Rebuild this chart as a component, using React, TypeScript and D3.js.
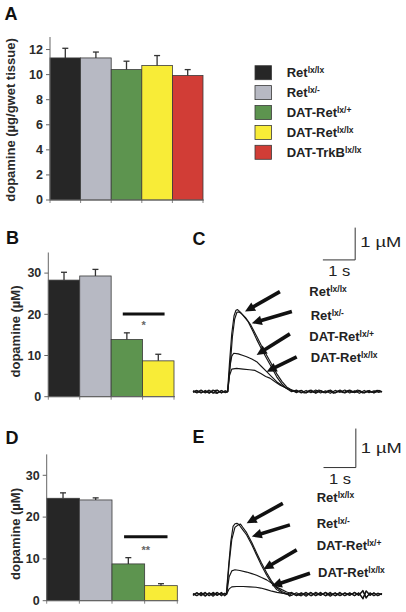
import React from 'react';
import * as d3 from 'd3';

const FONT = '"Liberation Sans", Arial, Helvetica, sans-serif';

// ---------- DATA ----------
const genoBase = ['Ret', 'Ret', 'DAT-Ret', 'DAT-Ret', 'DAT-TrkB'];
const genoSup = ['lx/lx', 'lx/-', 'lx/+', 'lx/lx', 'lx/lx'];
const genoColors = ['#262626', '#b7b9c3', '#5d944f', '#f8ec37', '#d13d36'];

const tissueMean = [11.33, 11.33, 10.4, 10.72, 9.93];
const tissueErr = [0.77, 0.47, 0.67, 0.8, 0.47];
const tissueTicks = [0, 2, 4, 6, 8, 10, 12];

const peakBMean = [28.3, 29.3, 13.9, 8.7];
const peakBErr = [1.9, 1.6, 1.6, 1.6];
const peakDMean = [24.5, 24.1, 8.8, 3.6];
const peakDErr = [1.3, 0.5, 1.5, 0.47];
const peakTicks = [0, 10, 20, 30];

type Pt = [number, number];

const traceC1: Pt[] = [[0,0.02],[0.12,-0.04],[0.25,0.03],[0.38,-0.02],[0.5,0.05],[0.62,-0.05],[0.75,0.04],[0.88,-0.03],[1.0,0.02],[1.07,0],[1.13,0.9],[1.2,1.8],[1.27,2.35],[1.33,2.52],[1.38,2.54],[1.45,2.48],[1.55,2.36],[1.7,2.18],[1.85,1.88],[1.97,1.62],[2.12,1.32],[2.28,1.03],[2.44,0.74],[2.59,0.46],[2.75,0.24],[2.9,0.1],[3.05,0.0],[3.2,0.05],[3.35,-0.04],[3.5,0.04],[3.65,-0.03],[3.8,0.05],[3.95,-0.04],[4.1,0.03],[4.25,-0.05],[4.4,0.04],[4.55,-0.02],[4.7,0.05],[4.85,-0.04],[5.0,0.03],[5.15,-0.05],[5.3,0.04],[5.45,-0.03],[5.6,0.03],[5.75,-0.02],[5.85,0.01]];
const traceC2: Pt[] = [[0,-0.02],[0.12,0.03],[0.25,-0.04],[0.38,0.04],[0.5,-0.03],[0.62,0.05],[0.75,-0.04],[0.88,0.04],[1.0,-0.02],[1.08,0],[1.15,0.8],[1.22,1.7],[1.29,2.25],[1.36,2.46],[1.42,2.47],[1.5,2.42],[1.62,2.3],[1.78,2.08],[1.97,1.72],[2.12,1.42],[2.28,1.13],[2.44,0.84],[2.59,0.56],[2.75,0.32],[2.9,0.15],[3.05,0.05],[3.2,-0.03],[3.35,0.04],[3.5,-0.04],[3.65,0.05],[3.8,-0.03],[3.95,0.04],[4.1,-0.04],[4.25,0.03],[4.4,-0.03],[4.55,0.05],[4.7,-0.04],[4.85,0.03],[5.0,-0.03],[5.15,0.04],[5.3,-0.03],[5.45,0.04],[5.6,-0.04],[5.75,0.03],[5.85,0.0]];
const traceC3: Pt[] = [[0,0.0],[0.12,0.04],[0.25,-0.03],[0.38,0.02],[0.5,-0.05],[0.62,0.03],[0.75,0.05],[0.88,-0.04],[1.0,0.03],[1.07,0],[1.14,0.75],[1.2,1.1],[1.26,1.19],[1.4,1.17],[1.55,1.12],[1.66,1.08],[1.82,1.01],[1.97,0.93],[2.12,0.78],[2.28,0.62],[2.44,0.46],[2.59,0.31],[2.75,0.19],[2.9,0.1],[3.05,0.04],[3.2,0.0],[3.35,0.04],[3.5,-0.03],[3.65,0.03],[3.8,-0.05],[3.95,0.03],[4.1,-0.02],[4.25,0.05],[4.4,-0.04],[4.55,0.03],[4.7,-0.03],[4.85,0.05],[5.0,-0.02],[5.15,0.03],[5.3,-0.04],[5.45,0.02],[5.6,-0.03],[5.75,0.04],[5.85,0.0]];
const traceC4: Pt[] = [[0,0.03],[0.12,-0.02],[0.25,0.05],[0.38,-0.04],[0.5,0.03],[0.62,-0.02],[0.75,-0.05],[0.88,0.03],[1.0,-0.03],[1.07,0],[1.13,0.5],[1.2,0.7],[1.35,0.72],[1.55,0.7],[1.75,0.68],[1.92,0.66],[2.1,0.56],[2.25,0.47],[2.38,0.42],[2.55,0.3],[2.7,0.2],[2.85,0.13],[3.0,0.07],[3.15,0.03],[3.3,0.0],[3.45,-0.04],[3.6,0.04],[3.75,-0.02],[3.9,0.05],[4.05,-0.03],[4.2,0.04],[4.35,-0.05],[4.5,0.02],[4.65,-0.03],[4.8,0.04],[4.95,-0.02],[5.1,0.05],[5.25,-0.04],[5.4,0.03],[5.55,-0.02],[5.7,0.04],[5.85,-0.01]];

const traceE1: Pt[] = [[0,0.01],[0.12,-0.04],[0.25,0.05],[0.38,-0.03],[0.5,0.03],[0.62,-0.05],[0.75,0.04],[0.88,-0.02],[0.98,0.02],[1.03,0],[1.1,0.7],[1.17,1.35],[1.24,1.74],[1.3,1.81],[1.36,1.82],[1.42,1.79],[1.52,1.68],[1.66,1.52],[1.82,1.27],[1.97,1.0],[2.12,0.74],[2.28,0.49],[2.44,0.28],[2.59,0.12],[2.75,0.04],[2.9,0.0],[3.05,0.05],[3.2,-0.04],[3.35,0.03],[3.5,-0.05],[3.65,0.04],[3.8,-0.03],[3.95,0.05],[4.1,-0.04],[4.25,0.02],[4.4,-0.03],[4.55,0.05],[4.7,-0.04],[4.85,0.03],[5.0,-0.03],[5.13,0.04],[5.26,-0.12],[5.36,0.08],[5.48,-0.03],[5.6,0.04],[5.72,-0.03],[5.85,0.02]];
const traceE2: Pt[] = [[0,-0.03],[0.12,0.04],[0.25,-0.02],[0.38,0.05],[0.5,-0.04],[0.62,0.03],[0.75,-0.03],[0.88,0.05],[0.98,-0.02],[1.04,0],[1.12,0.8],[1.2,1.4],[1.3,1.72],[1.4,1.78],[1.47,1.8],[1.54,1.72],[1.66,1.58],[1.82,1.33],[1.97,1.06],[2.12,0.8],[2.28,0.55],[2.44,0.33],[2.59,0.17],[2.75,0.07],[2.9,0.02],[3.0,-0.05],[3.05,0.04],[3.2,0.0],[3.35,-0.04],[3.5,0.04],[3.65,-0.03],[3.8,0.05],[3.95,-0.02],[4.1,0.04],[4.25,-0.05],[4.4,0.03],[4.55,-0.03],[4.7,0.04],[4.85,-0.02],[5.0,0.04],[5.13,-0.03],[5.26,0.1],[5.36,-0.08],[5.48,0.03],[5.6,-0.04],[5.72,0.03],[5.85,-0.01]];
const traceE3: Pt[] = [[0,0.02],[0.12,-0.03],[0.25,0.03],[0.38,-0.05],[0.5,0.04],[0.62,-0.02],[0.75,0.05],[0.88,-0.04],[0.98,0.03],[1.04,0],[1.12,0.45],[1.2,0.6],[1.3,0.63],[1.45,0.61],[1.66,0.57],[1.82,0.53],[1.97,0.49],[2.12,0.43],[2.28,0.37],[2.44,0.28],[2.59,0.19],[2.75,0.12],[2.9,0.06],[3.05,0.02],[3.2,-0.03],[3.35,0.04],[3.5,-0.02],[3.65,0.05],[3.8,-0.04],[3.95,0.03],[4.1,-0.03],[4.25,0.05],[4.4,-0.04],[4.55,0.02],[4.7,-0.03],[4.85,0.04],[5.0,-0.04],[5.13,0.03],[5.26,-0.1],[5.36,0.09],[5.48,-0.02],[5.6,0.03],[5.72,-0.04],[5.85,0.02]];
const traceE4: Pt[] = [[0,-0.01],[0.12,0.04],[0.25,-0.04],[0.38,0.03],[0.5,-0.03],[0.62,0.05],[0.75,-0.02],[0.88,0.03],[0.98,-0.04],[1.04,0],[1.12,0.14],[1.2,0.19],[1.35,0.2],[1.55,0.2],[1.75,0.19],[1.95,0.18],[2.1,0.16],[2.28,0.12],[2.44,0.08],[2.6,0.05],[2.75,0.03],[2.9,0.01],[3.05,-0.03],[3.2,0.04],[3.35,-0.02],[3.5,0.05],[3.65,-0.04],[3.8,0.02],[3.95,-0.03],[4.1,0.05],[4.25,-0.02],[4.4,0.04],[4.55,-0.04],[4.7,0.03],[4.85,-0.03],[5.0,0.05],[5.13,-0.02],[5.26,0.08],[5.36,-0.1],[5.48,0.04],[5.6,-0.03],[5.72,0.02],[5.85,0.0]];

// arrows: [tailT, tailV, tipT, tipV]
const arrowsC = [[2.69, 3.10, 1.61, 2.48], [3.06, 2.48, 1.82, 2.12], [3.0, 1.79, 1.97, 1.14], [3.21, 1.08, 2.28, 0.62]];
const arrowsE = [[2.78, 2.33, 1.66, 1.82], [3.0, 1.78, 1.82, 1.48], [3.21, 1.14, 2.18, 0.64], [3.62, 0.54, 2.44, 0.21]];
const traceLabelBase = ['Ret', 'Ret', 'DAT-Ret', 'DAT-Ret'];
const traceLabelSup = ['lx/lx', 'lx/-', 'lx/+', 'lx/lx'];

// ---------- COMPONENTS ----------
function SupText({ x, y, base, sup, size = 13, supSize = 8.5, rise = 4.2 }: any) {
  return (
    <text x={x} y={y} fontFamily={FONT} fontWeight="bold" fontSize={size} fill="#222">
      <tspan>{base}</tspan>
      <tspan fontSize={supSize} dy={-rise}>{sup}</tspan>
    </text>
  );
}

function BarPanel({ x0, x1, yBottom, yTop, max, ticks, means, errs, colors, label, labelX, labelCy, sig }: any) {
  const xs = d3.scaleBand<number>().domain(d3.range(means.length)).range([x0, x1]).padding(0);
  const ys = d3.scaleLinear().domain([0, max]).range([yBottom, yTop]);
  const bw = xs.bandwidth();
  const axisColor = '#666';
  return (
    <g>
      {means.map((m: number, i: number) => (
        <rect key={'b' + i} x={xs(i)!} y={ys(m)} width={bw} height={ys(0) - ys(m)} fill={colors[i]} stroke="#3a3a3a" strokeWidth={0.8} />
      ))}
      {means.map((m: number, i: number) => {
        const cx = xs(i)! + bw / 2;
        return (
          <g key={'e' + i} stroke="#333" strokeWidth={1.3}>
            <line x1={cx} x2={cx} y1={ys(m)} y2={ys(m + errs[i])} />
            <line x1={cx - 3} x2={cx + 3} y1={ys(m + errs[i])} y2={ys(m + errs[i])} />
          </g>
        );
      })}
      <line x1={x0} x2={x0} y1={ys(0)} y2={ys(max)} stroke={axisColor} strokeWidth={1} />
      <line x1={x0} x2={x1 + 1} y1={ys(0)} y2={ys(0)} stroke={axisColor} strokeWidth={1} />
      {d3.range(means.length + 1).map((i) => {
        const tx = i < means.length ? xs(i)! : x1;
        return <line key={'xt' + i} x1={tx} x2={tx} y1={ys(0)} y2={ys(0) + 3} stroke={axisColor} strokeWidth={0.8} />;
      })}
      {ticks.map((t: number) => (
        <g key={'t' + t}>
          <line x1={x0 - 4} x2={x0} y1={ys(t)} y2={ys(t)} stroke={axisColor} strokeWidth={1} />
          <text x={x0 - 7} y={ys(t) + 4.3} textAnchor="end" fontFamily={FONT} fontWeight="bold" fontSize={12.5} fill="#2a2a2a">{t}</text>
        </g>
      ))}
      <text transform={`translate(${labelX},${labelCy}) rotate(-90)`} textAnchor="middle" fontFamily={FONT} fontWeight="bold" fontSize={13} fill="#2a2a2a">{label}</text>
      {sig && (
        <g>
          <line x1={xs(2)! + bw * 0.37} x2={xs(3)! + bw * 0.7} y1={ys(sig.lineV)} y2={ys(sig.lineV)} stroke="#111" strokeWidth={3} />
          <text x={xs(2)! + bw * 0.37 + (xs(3)! + bw * 0.7 - xs(2)! - bw * 0.37) / 2} y={ys(sig.starV) + 6} textAnchor="middle" fontFamily={FONT} fontWeight="bold" fontSize={11} fill="#666">{sig.text}</text>
        </g>
      )}
    </g>
  );
}

function Arrow({ x1, y1, x2, y2 }: any) {
  const ang = Math.atan2(y2 - y1, x2 - x1);
  const L = 10, W = 4.8;
  const bx = x2 - L * Math.cos(ang), by = y2 - L * Math.sin(ang);
  const px = -Math.sin(ang), py = Math.cos(ang);
  const pts = [[x2, y2], [bx + W * px, by + W * py], [bx - W * px, by - W * py]].map((p) => p.join(',')).join(' ');
  return (
    <g>
      <line x1={x1} y1={y1} x2={bx + 1 * Math.cos(ang)} y2={by + 1 * Math.sin(ang)} stroke="#111" strokeWidth={3.6} />
      <polygon points={pts} fill="#111" />
    </g>
  );
}

function TracePanel({ baseline, pxPerUM, traces, arrows, labels, barT, barV, umBaseline, sBaseline }: any) {
  const xs = d3.scaleLinear().domain([0, 5.85]).range([193, 382]);
  const ys = d3.scaleLinear().domain([0, 1]).range([baseline, baseline - pxPerUM]);
  const line = d3.line<Pt>().x((d) => xs(d[0])).y((d) => ys(d[1])).curve(d3.curveLinear);
  return (
    <g>
      {traces.map((tr: Pt[], i: number) => (
        <path key={'tr' + i} d={line(tr) || ''} fill="none" stroke="#151515" strokeWidth={1.15} strokeLinejoin="round" />
      ))}
      {arrows.map((a: number[], i: number) => (
        <Arrow key={'a' + i} x1={xs(a[0])} y1={ys(a[1])} x2={xs(a[2])} y2={ys(a[3])} />
      ))}
      {labels.map((l: number[], i: number) => (
        <SupText key={'l' + i} x={l[0]} y={l[1]} base={traceLabelBase[i]} sup={traceLabelSup[i]} />
      ))}
      <line x1={xs(barT)} x2={xs(barT)} y1={ys(barV)} y2={ys(barV + 1)} stroke="#333" strokeWidth={1} />
      <line x1={xs(barT - 1)} x2={xs(barT)} y1={ys(barV)} y2={ys(barV)} stroke="#333" strokeWidth={1} />
      <text x={xs(barT) + 5} y={umBaseline} fontFamily={FONT} fontSize={14} fill="#222" textLength={41} lengthAdjust="spacingAndGlyphs">1 µM</text>
      <text x={xs(barT - 1) + 5.5} y={sBaseline} fontFamily={FONT} fontSize={14} fill="#222" textLength={22} lengthAdjust="spacingAndGlyphs">1 s</text>
    </g>
  );
}

const letterStyle = { fontFamily: FONT, fontWeight: 'bold' as const, fontSize: 18, fill: '#111' };

export default function App() {
  return (
    <svg width={406} height={612} style={{ position: 'absolute', left: 0, top: 0, background: '#fff' }}>
      <rect x={0} y={0} width={406} height={612} fill="#fff" />
      {/* Panel letters */}
      <text x={4.5} y={20} {...letterStyle}>A</text>
      <text x={6} y={244} {...letterStyle}>B</text>
      <text x={192.5} y={245} {...letterStyle}>C</text>
      <text x={5.5} y={443.5} {...letterStyle}>D</text>
      <text x={192.5} y={443} {...letterStyle}>E</text>

      {/* A */}
      <BarPanel x0={50} x1={203} yBottom={200} yTop={37} max={13} ticks={tissueTicks} means={tissueMean} errs={tissueErr}
        colors={genoColors} label="dopamine (µg/gwet tissue)" labelX={14.5} labelCy={120} />

      {/* Legend */}
      {genoBase.map((b, i) => (
        <g key={'lg' + i}>
          <rect x={255} y={72.7 + i * 19.9 - 7} width={16.5} height={14} fill={genoColors[i]} stroke="#3a3a3a" strokeWidth={0.8} />
          <SupText x={286.7} y={72.7 + i * 19.9 + 4.6} base={b} sup={genoSup[i]} />
        </g>
      ))}

      {/* B */}
      <BarPanel x0={48.3} x1={174} yBottom={396.7} yTop={252.5} max={35} ticks={peakTicks} means={peakBMean} errs={peakBErr}
        colors={genoColors} label="dopamine (µM)" labelX={19.5} labelCy={331.5} sig={{ lineV: 20.1, starV: 17.8, text: '*' }} />

      {/* D */}
      <BarPanel x0={46.7} x1={177.3} yBottom={600.7} yTop={454.4} max={35} ticks={peakTicks} means={peakDMean} errs={peakDErr}
        colors={genoColors} label="dopamine (µM)" labelX={19.5} labelCy={534} sig={{ lineV: 15.3, starV: 12.5, text: '**' }} />

      {/* C */}
      <TracePanel baseline={391.7} pxPerUM={32.3} traces={[traceC1, traceC2, traceC3, traceC4]} arrows={arrowsC}
        labels={[[309.3, 296], [310.7, 320], [309.3, 340.7], [310.7, 361.7]]} barT={5.02} barV={4.08} umBaseline={246.7} sBaseline={275.7} />

      {/* E */}
      <TracePanel baseline={594.3} pxPerUM={39} traces={[traceE1, traceE2, traceE3, traceE4]} arrows={arrowsE}
        labels={[[316.7, 502.3], [316.7, 528.3], [316.7, 550], [318, 576.7]]} barT={5.04} barV={3.25} umBaseline={453.3} sBaseline={484.3} />
    </svg>
  );
}
